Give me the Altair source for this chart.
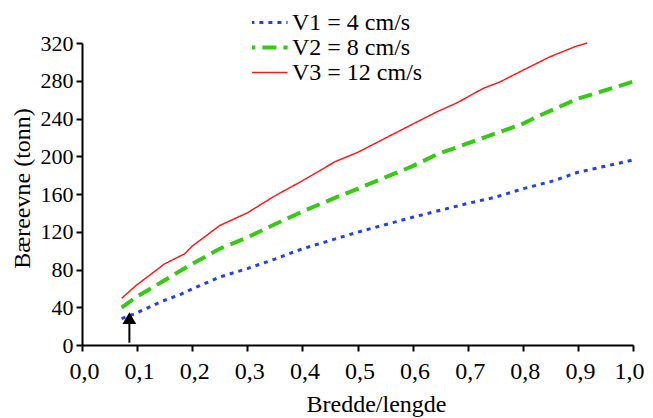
import altair as alt
import pandas as pd

FONT = "Liberation Serif"

series_names = ["V1 = 4 cm/s", "V2 = 8 cm/s", "V3 = 12 cm/s"]
series_colors = ["#1f3fff", "#33cc11", "#ff1a1a"]
series_dashes = [[4, 5], [14, 7], [1, 0]]
series_widths = [3, 4, 1.5]

v1_x = [0.072, 0.098, 0.144, 0.18, 0.2, 0.25, 0.3, 0.35, 0.4, 0.46, 0.5, 0.6, 0.697, 0.75, 0.8, 0.856, 0.9, 1.0]
v1_y = [28, 33.6, 46, 54, 59.4, 72, 81, 91, 102, 112.4, 119.5, 135.4, 149.6, 156.6, 165.5, 174, 183, 196]

v2_x = [0.072, 0.098, 0.144, 0.174, 0.2, 0.25, 0.3, 0.35, 0.4, 0.462, 0.5, 0.6, 0.644, 0.697, 0.75, 0.8, 0.826, 0.9, 1.0]
v2_y = [39.5, 50.6, 66.5, 77, 86, 102, 114, 128, 141.4, 156.6, 165.5, 189.5, 202, 213, 224, 234.4, 242, 261, 279]

v3_x = [0.072, 0.098, 0.15, 0.186, 0.2, 0.25, 0.3, 0.35, 0.4, 0.46, 0.5, 0.6, 0.644, 0.682, 0.727, 0.758, 0.8, 0.848, 0.894, 0.917]
v3_y = [49.5, 63, 86, 96.5, 104.7, 126.6, 140, 158, 174, 194.5, 204, 234, 247, 257, 271.6, 278.6, 291, 305, 316, 320]

x_ticks = [0.0, 0.1, 0.2, 0.3, 0.4, 0.5, 0.6, 0.7, 0.8, 0.9, 1.0]
y_ticks = [0, 40, 80, 120, 160, 200, 240, 280, 320]

# arrow marker
arrow_x = [0.086]
arrow_base = [2.5]
arrow_top = [23]
arrow_head = [28.5]

rows = []
for name, xs, ys in zip(series_names, [v1_x, v2_x, v3_x], [v1_y, v2_y, v3_y]):
    for xv, yv in zip(xs, ys):
        rows.append({"series": name, "x": xv, "y": yv})
df = pd.DataFrame(rows)

arrow_df = pd.DataFrame({"x": arrow_x, "y": arrow_base, "y2": arrow_top})
head_df = pd.DataFrame({"x": arrow_x, "y": arrow_head})

x_enc = alt.X(
    "x:Q",
    title="Bredde/lengde",
    scale=alt.Scale(domain=[0, 1], nice=False, zero=False),
    axis=alt.Axis(
        values=x_ticks,
        labelExpr="replace(format(datum.value, '.1f'), '.', ',')",
        labelFont=FONT,
        labelFontSize=24,
        labelPadding=8,
        labelFlush=False,
        labelOffset={"condition": {"test": "datum.value >= 0.99", "value": -4}, "value": 2},
        titleFont=FONT,
        titleFontSize=24,
        titleX=294,
        titleY=66,
        titleAlign="center",
        titleBaseline="alphabetic",
    ),
)
y_enc = alt.Y(
    "y:Q",
    title="Bæreevne (tonn)",
    scale=alt.Scale(domain=[0, 320], nice=False),
    axis=alt.Axis(
        values=y_ticks,
        labelFont=FONT,
        labelFontSize=22,
        labelPadding=3,
        labelFlush=False,
        titleFont=FONT,
        titleFontSize=24,
        titleAngle=270,
        titleX=-53,
        titleY=145,
        titleAlign="center",
        titleBaseline="alphabetic",
    ),
)

lines = alt.Chart(df).mark_line(clip=False, strokeCap="butt").encode(
    x=x_enc,
    y=y_enc,
    color=alt.Color(
        "series:N",
        title=None,
        scale=alt.Scale(domain=series_names, range=series_colors),
        legend=alt.Legend(
            orient="none",
            legendX=170,
            legendY=-31,
            symbolType="M-2.2,0H2.2",
            symbolSize=441,
            symbolOffset=0,
            labelFont=FONT,
            labelFontSize=24,
            labelColor="black",
            labelOffset=15,
            labelLimit=400,
            clipHeight=21,
            rowPadding=0,
            padding=0,
        ),
    ),
    strokeDash=alt.StrokeDash(
        "series:N", title=None, scale=alt.Scale(domain=series_names, range=series_dashes)
    ),
    strokeWidth=alt.StrokeWidth(
        "series:N",
        title=None,
        scale=alt.Scale(type="ordinal", domain=series_names, range=series_widths),
    ),
    order="x:Q",
)

shaft = alt.Chart(arrow_df).mark_rule(color="black", strokeWidth=2).encode(
    x=x_enc, y=y_enc, y2="y2:Q"
)
head = alt.Chart(head_df).mark_point(
    shape="triangle-up", filled=True, color="black", opacity=1, size=190
).encode(x=x_enc, y=y_enc)

chart = (
    alt.layer(lines, shaft, head)
    .properties(
        width=551,
        height=302,
        autosize=alt.AutoSizeParams(type="none"),
        padding={"left": 74, "top": 35, "right": 12, "bottom": 72},
    )
    .configure(font=FONT)
    .configure_view(stroke=None)
    .configure_axis(
        labelFont=FONT,
        titleFont=FONT,
        titleFontWeight="normal",
        titleColor="black",
        labelColor="black",
        domainColor="black",
        domainWidth=2,
        tickColor="black",
        tickWidth=2,
        tickSize=6,
        grid=False,
    )
    .configure_legend(labelFont=FONT)
)

chart.save("out.html", embed_options={"renderer": "svg", "actions": False})
